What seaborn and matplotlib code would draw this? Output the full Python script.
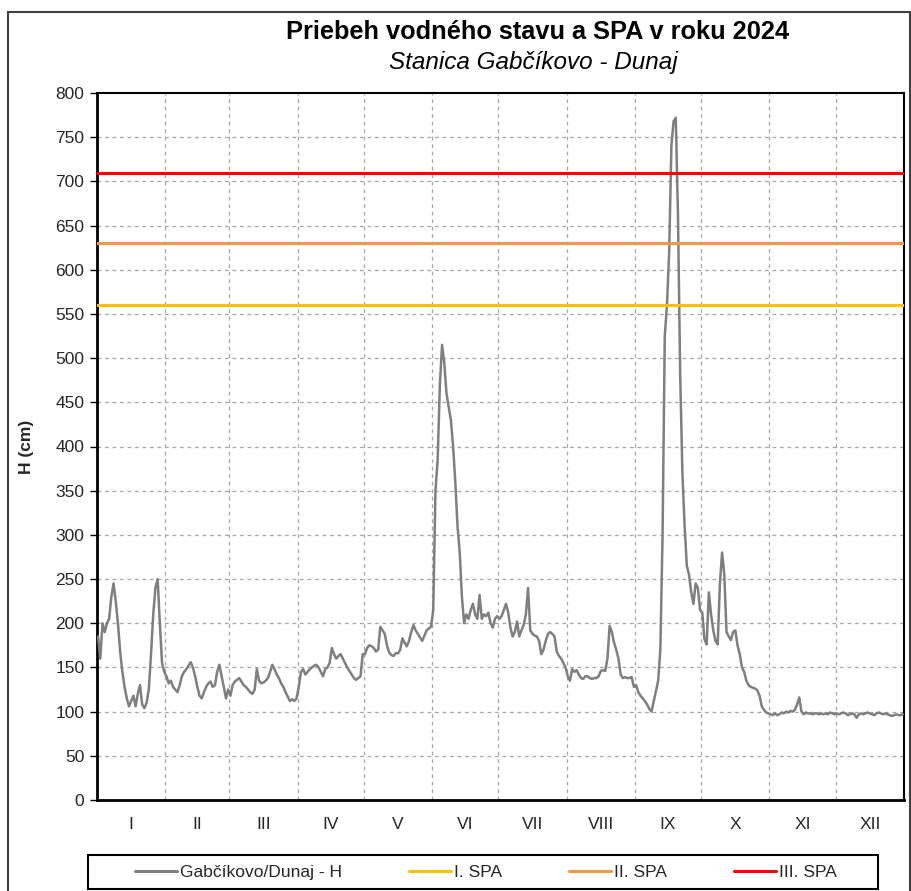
import numpy as np
import pandas as pd
import matplotlib
matplotlib.use("Agg")
import matplotlib.pyplot as plt
import seaborn as sns
from matplotlib.patches import Rectangle

# ---------------- data ----------------
month_labels = ["I", "II", "III", "IV", "V", "VI", "VII", "VIII", "IX", "X", "XI", "XII"]
month_days = [31, 29, 31, 30, 31, 30, 31, 31, 30, 31, 30, 31]

h_jan = [185, 160, 200, 190, 200, 205, 230, 245, 225, 200, 168, 145, 128, 115, 106, 112,
         118, 106, 120, 130, 108, 104, 110, 125, 165, 210, 240, 250, 200, 155, 145]
h_feb = [140, 132, 135, 128, 125, 122, 130, 140, 145, 148, 152, 156, 150, 140, 128, 118,
         115, 122, 128, 132, 134, 128, 130, 145, 153, 140, 128, 115, 125]
h_mar = [118, 130, 134, 136, 138, 134, 130, 128, 125, 122, 120, 125, 148, 135, 132, 133,
         135, 138, 145, 153, 148, 142, 138, 132, 128, 122, 117, 112, 114, 112, 115]
h_apr = [128, 145, 148, 142, 145, 148, 150, 152, 153, 150, 145, 140, 148, 150, 155, 172,
         165, 160, 163, 165, 160, 155, 150, 146, 142, 138, 136, 138, 140, 165]
h_may = [165, 172, 175, 174, 172, 168, 170, 196, 192, 188, 175, 167, 164, 163, 166, 166,
         170, 183, 178, 174, 180, 190, 198, 192, 188, 184, 180, 186, 192, 194, 196]
h_jun = [215, 350, 385, 470, 515, 495, 460, 445, 430, 400, 360, 310, 280, 230, 200, 210,
         205, 215, 222, 210, 205, 232, 205, 210, 208, 212, 200, 195, 205, 208]
h_jul = [205, 208, 215, 222, 212, 195, 185, 190, 202, 185, 192, 198, 210, 240, 192, 188,
         186, 185, 180, 165, 170, 180, 188, 190, 188, 185, 168, 163, 160, 155, 150]
h_aug = [140, 135, 148, 145, 147, 142, 138, 137, 140, 140, 138, 137, 138, 138, 140, 146,
         147, 146, 160, 197, 190, 178, 170, 160, 142, 138, 139, 138, 138, 139, 128]
h_sep = [130, 122, 118, 115, 112, 108, 103, 100, 112, 123, 135, 170, 300, 525, 560, 620,
         740, 768, 772, 660, 480, 370, 310, 265, 255, 235, 222, 245, 240, 215]
h_oct = [212, 182, 176, 235, 210, 192, 180, 176, 245, 280, 255, 190, 185, 181, 190, 192,
         175, 165, 150, 145, 135, 130, 128, 127, 126, 124, 118, 106, 102, 99, 98]
h_nov = [97, 96, 98, 96, 97, 99, 98, 100, 99, 101, 100, 102, 108, 116, 100, 97,
         99, 98, 98, 97, 98, 98, 97, 98, 97, 98, 97, 99, 98, 97]
h_dec = [98, 97, 98, 99, 98, 96, 97, 98, 97, 93, 97, 98, 97, 98, 99, 98,
         97, 96, 98, 99, 98, 97, 98, 97, 96, 95, 96, 97, 96, 96, 97]

spa_names = ["I. SPA", "II. SPA", "III. SPA"]
spa_values = [560, 630, 710]
spa_colors = ["#FFC000", "#F79646", "#FF0000"]
series_name = "Gabčíkovo/Dunaj - H"

title = "Priebeh vodného stavu a SPA v roku 2024"
subtitle = "Stanica Gabčíkovo - Dunaj"
ylabel = "H (cm)"
yticks = list(range(0, 801, 50))

# ---------------- build ----------------
h_all = (h_jan + h_feb + h_mar + h_apr + h_may + h_jun +
         h_jul + h_aug + h_sep + h_oct + h_nov + h_dec)
df = pd.DataFrame({"day": np.arange(len(h_all)) + 0.5, "H": h_all})
bounds = np.concatenate([[0], np.cumsum(month_days)])
centers = (bounds[:-1] + bounds[1:]) / 2

sns.set_theme(style="white")
plt.rcParams["font.family"] = ["Liberation Sans", "DejaVu Sans"]

fig = plt.figure(figsize=(9.12, 8.91), dpi=100)
ax = fig.add_axes([97 / 912, 1 - 800 / 891, (904 - 97) / 912, (800 - 93) / 891])

# grid
for b in bounds[1:-1]:
    ax.axvline(b, color="#A6A6A6", lw=0.9, ls=(0, (3, 3)), zorder=0)
for t in yticks[1:-1]:
    ax.axhline(t, color="#A6A6A6", lw=0.9, ls=(0, (3, 3)), zorder=0)

sns.lineplot(data=df, x="day", y="H", ax=ax, color="#7F7F7F", lw=1.8,
             label=series_name, zorder=3)
for name, val, col in zip(spa_names, spa_values, spa_colors):
    ax.axhline(val, color=col, lw=2.2, label=name, zorder=4)

ax.set_xlim(0, bounds[-1])
ax.set_ylim(0, 800)
ax.set_yticks(yticks)
ax.set_yticklabels([str(t) for t in yticks], fontsize=12.5)
ax.set_xticks(centers)
ax.set_xticklabels(month_labels, fontsize=12.5)
ax.tick_params(axis="x", length=0, pad=12)
ax.tick_params(axis="y", length=5, width=1, direction="out", color="black", left=True, pad=4)
ax.set_xlabel("")
ax.set_ylabel(ylabel, fontsize=12.5, fontweight="bold")
ax.yaxis.set_label_coords(-0.078, 0.5)
for s in ["left", "bottom"]:
    ax.spines[s].set_linewidth(2.0)
    ax.spines[s].set_color("black")
for s in ["top", "right"]:
    ax.spines[s].set_linewidth(1.5)
    ax.spines[s].set_color("black")

fig.text(538 / 912, 1 - 32 / 891, title, ha="center", va="center",
         fontsize=18.3, fontweight="bold", color="black")
fig.text(533 / 912, 1 - 62 / 891, subtitle, ha="center", va="center",
         fontsize=17.5, fontstyle="italic", color="black")

leg = ax.legend(loc="center", bbox_to_anchor=(486 / 912, 1 - 872 / 891),
                bbox_transform=fig.transFigure, ncol=4, frameon=False,
                fontsize=12.5, handlelength=2.4, columnspacing=3.9, borderpad=0.4,
                handletextpad=0.15, borderaxespad=0)
for line in leg.get_lines():
    line.set_linewidth(2.2)

# legend frame
fig.patches.append(Rectangle((88 / 912, 1 - 889 / 891), (878 - 88) / 912, 34 / 891,
                             transform=fig.transFigure, fill=False,
                             edgecolor="black", lw=1.5))

# figure frame
fig.patches.append(Rectangle((8 / 912, -0.05), (910 - 8) / 912, 1.05 - 12 / 891,
                             transform=fig.transFigure, fill=False,
                             edgecolor="#404040", lw=1.5))

fig.savefig("out.png", dpi=100)
